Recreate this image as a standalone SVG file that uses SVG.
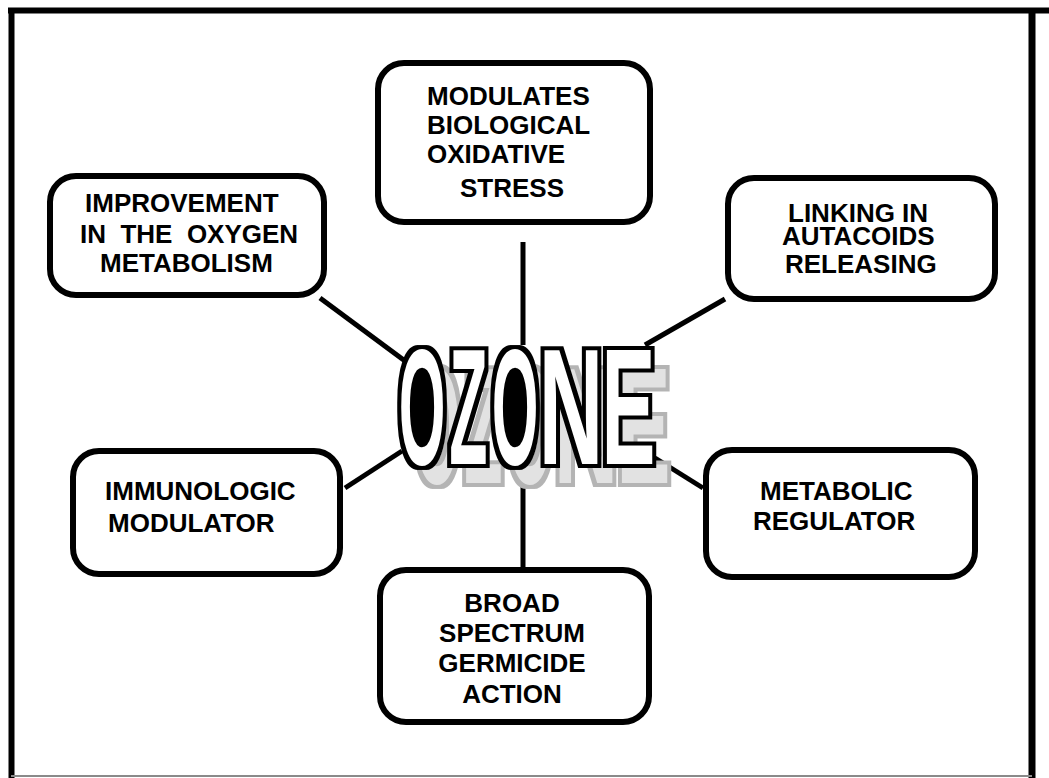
<svg xmlns="http://www.w3.org/2000/svg" width="1049" height="778" viewBox="0 0 1049 778">
<style>
.box{fill:#fff;stroke:#000;stroke-width:6}
.lbl{font-family:"Liberation Sans",Arial,sans-serif;font-weight:bold;font-size:26px;fill:#000}
.con{stroke:#000;stroke-width:5;fill:none}
.oz{font-family:"Liberation Sans",Arial,sans-serif;font-weight:bold;font-size:165px;text-anchor:middle}
</style>
<defs>
<filter id="outl" x="-50%" y="-20%" width="200%" height="140%" color-interpolation-filters="sRGB">
<feMorphology in="SourceAlpha" operator="dilate" radius="13" result="d"/>
<feMorphology in="d" operator="erode" radius="13" result="closed"/>
<feMorphology in="closed" operator="dilate" radius="4" result="outer"/>
<feFlood flood-color="#000" result="blk"/>
<feComposite in="blk" in2="outer" operator="in" result="o"/>
<feFlood flood-color="#fff" result="w"/>
<feComposite in="w" in2="SourceAlpha" operator="in" result="white"/>
<feMerge><feMergeNode in="o"/><feMergeNode in="white"/></feMerge>
</filter>
<filter id="outl2" x="-50%" y="-20%" width="200%" height="140%" color-interpolation-filters="sRGB">
<feMorphology in="SourceAlpha" operator="dilate" radius="4" result="outer"/>
<feFlood flood-color="#000" result="blk"/>
<feComposite in="blk" in2="outer" operator="in" result="o"/>
<feFlood flood-color="#fff" result="w"/>
<feComposite in="w" in2="SourceAlpha" operator="in" result="white"/>
<feMerge><feMergeNode in="o"/><feMergeNode in="white"/></feMerge>
</filter>
<filter id="shad" x="-50%" y="-20%" width="200%" height="140%" color-interpolation-filters="sRGB">
<feMorphology in="SourceAlpha" operator="dilate" radius="4" result="outer"/>
<feFlood flood-color="#b4b4b4" result="g"/>
<feComposite in="g" in2="outer" operator="in" result="o"/>
<feFlood flood-color="#e2e2e2" result="w"/>
<feComposite in="w" in2="SourceAlpha" operator="in" result="inner"/>
<feMerge><feMergeNode in="o"/><feMergeNode in="inner"/></feMerge>
</filter>
</defs>
<rect width="1049" height="778" fill="#fff"/>
<g id="frame" fill="none">
<line x1="8" y1="10.5" x2="1049" y2="10.5" stroke="#000" stroke-width="6"/>
<line x1="11.5" y1="8" x2="11.5" y2="778" stroke="#000" stroke-width="6"/>
<line x1="1032" y1="8" x2="1032" y2="778" stroke="#000" stroke-width="7"/>
<line x1="11" y1="776" x2="1032" y2="776" stroke="#8a8a8a" stroke-width="2"/>
</g>
<g id="connectors">
<line class="con" x1="523" y1="242" x2="523" y2="345"/>
<line class="con" x1="320" y1="298" x2="405" y2="361"/>
<line class="con" x1="725" y1="299" x2="645" y2="345"/>
<line class="con" x1="345" y1="488" x2="402" y2="451"/>
<line class="con" x1="655" y1="458" x2="703" y2="488"/>
<line class="con" x1="523" y1="465" x2="523" y2="568"/>
</g>
<g id="ozone">
<g id="ozone-shadow" filter="url(#shad)">
<text class="oz" transform="translate(437,483) scale(0.364,1)">O</text>
<text class="oz" transform="translate(483.5,483) scale(0.38,1)">Z</text>
<text class="oz" transform="translate(530,483) scale(0.364,1)">O</text>
<text class="oz" transform="translate(586,483) scale(0.545,1)">N</text>
<text class="oz" transform="translate(643.5,483) scale(0.49,1)">E</text>
</g>
<g id="ozone-main">
<g filter="url(#outl)"><text class="oz" transform="translate(422,464) scale(0.364,1)">O</text></g>
<g filter="url(#outl2)"><text class="oz" transform="translate(468.5,464) scale(0.38,1)">Z</text></g>
<g filter="url(#outl)"><text class="oz" transform="translate(515,464) scale(0.364,1)">O</text></g>
<g filter="url(#outl2)"><text class="oz" transform="translate(571,464) scale(0.545,1)">N</text></g>
<g filter="url(#outl2)"><text class="oz" transform="translate(628.5,464) scale(0.49,1)">E</text></g>
</g>
</g>
<g id="node-modulates">
<rect class="box" x="378" y="63" width="272" height="159" rx="26"/>
<text class="lbl" x="427" y="105">MODULATES</text>
<text class="lbl" x="427" y="134">BIOLOGICAL</text>
<text class="lbl" x="427" y="163">OXIDATIVE</text>
<text class="lbl" x="460" y="197">STRESS</text>
</g>
<g id="node-improvement">
<rect class="box" x="50" y="176" width="274" height="119" rx="26"/>
<text class="lbl" x="85" y="212">IMPROVEMENT</text>
<text class="lbl" x="80" y="243">IN&#160; THE&#160; OXYGEN</text>
<text class="lbl" x="100" y="272">METABOLISM</text>
</g>
<g id="node-linking">
<rect class="box" x="728" y="178" width="267" height="121" rx="26"/>
<text class="lbl" x="788" y="222">LINKING IN</text>
<text class="lbl" x="782" y="245">AUTACOIDS</text>
<text class="lbl" x="785" y="273">RELEASING</text>
</g>
<g id="node-immunologic">
<rect class="box" x="73" y="451" width="267" height="123" rx="26"/>
<text class="lbl" x="105" y="500">IMMUNOLOGIC</text>
<text class="lbl" x="108" y="532">MODULATOR</text>
</g>
<g id="node-metabolic">
<rect class="box" x="706" y="450" width="269" height="127" rx="26"/>
<text class="lbl" x="760" y="500">METABOLIC</text>
<text class="lbl" x="753" y="530">REGULATOR</text>
</g>
<g id="node-broad">
<rect class="box" x="380" y="570" width="269" height="152" rx="26"/>
<text class="lbl" x="512" y="612" text-anchor="middle">BROAD</text>
<text class="lbl" x="512" y="642" text-anchor="middle">SPECTRUM</text>
<text class="lbl" x="512" y="672" text-anchor="middle">GERMICIDE</text>
<text class="lbl" x="512" y="703" text-anchor="middle">ACTION</text>
</g>
</svg>
